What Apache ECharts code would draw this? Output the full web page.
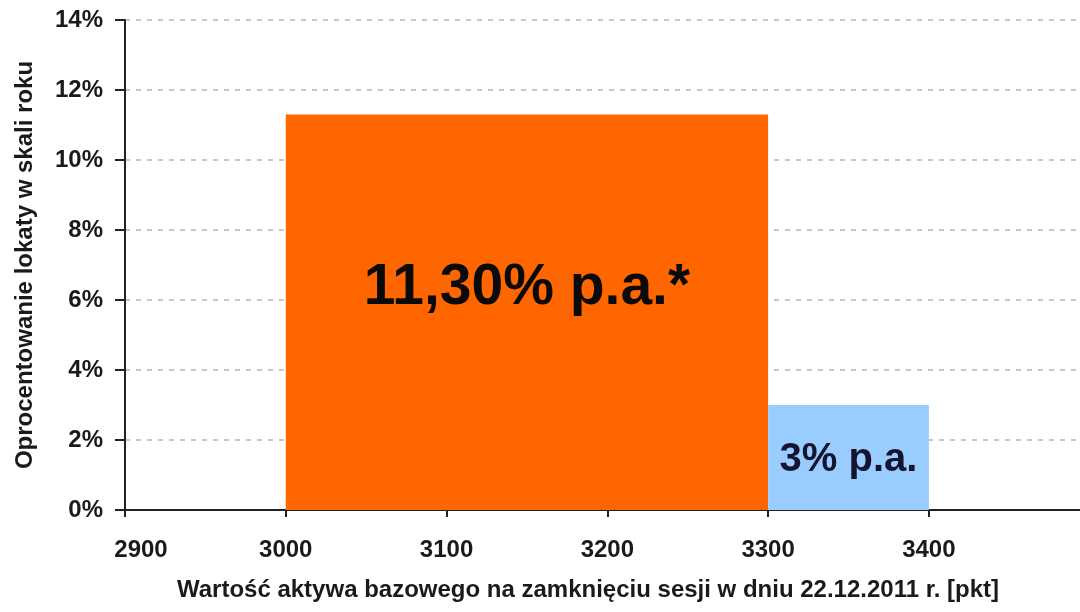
<!DOCTYPE html>
<html>
<head>
<meta charset="utf-8">
<script src="https://cdn.jsdelivr.net/npm/echarts@6/dist/echarts.min.js"></script>
<style>
  html, body { margin: 0; padding: 0; background: #ffffff; }
  #chart { width: 1080px; height: 612px; }
</style>
</head>
<body>
<div id="chart"></div>
<script>
// Index level bands (points) and the annual deposit rate paid in each band
const bandFrom = [3000, 3300];
const bandTo = [3300, 3400];
const ratePct = [11.3, 3];
const rateDecimals = [2, 0];
const rateNote = ['*', ''];

// Axis ranges
const xMin = 2900, xMax = 3494, xStep = 100;
const yMin = 0, yMax = 14, yStep = 2;

const xTitle = 'Wartość aktywa bazowego na zamknięciu sesji w dniu 22.12.2011 r. [pkt]';
const yTitle = 'Oprocentowanie lokaty w skali roku';

// Styling
const FONT = '"Liberation Sans", Arial, sans-serif';
const bandColor = ['#FF6600', '#99CCFF'];
const bandTextColor = ['#0a0a0a', '#14142e'];
const bandTextSize = [57, 40];
const bandTextShift = [-24, 2];

const rateText = i =>
  ratePct[i].toFixed(rateDecimals[i]).replace('.', ',') + '% p.a.' + rateNote[i];

const bands = bandFrom.map((f, i) => [f, bandTo[i], ratePct[i]]);

const chart = echarts.init(document.getElementById('chart'), null, { renderer: 'canvas' });

chart.setOption({
  backgroundColor: '#ffffff',
  animation: false,
  grid: { left: 125, right: 0, top: 20, bottom: 102, containLabel: false },
  xAxis: {
    type: 'value',
    min: xMin, max: xMax, interval: xStep,
    name: xTitle,
    nameLocation: 'middle',
    nameGap: 68,
    nameTextStyle: {
      fontFamily: FONT, fontWeight: 'bold', fontSize: 24, color: '#1a1a1a',
      padding: [0, 29, 0, 0]
    },
    axisLine: { show: true, onZero: false, lineStyle: { color: '#222222', width: 2 } },
    axisTick: { show: true, length: 7, lineStyle: { color: '#222222', width: 2 } },
    axisLabel: {
      margin: 28,
      showMaxLabel: false,
      fontFamily: FONT, fontWeight: 'bold', fontSize: 24, color: '#1a1a1a',
      formatter: v => (v === xMin ? '{first|' + v + '}' : String(v)),
      rich: {
        first: { fontFamily: FONT, fontWeight: 'bold', fontSize: 24, color: '#1a1a1a', padding: [0, 0, 0, 32] }
      }
    },
    splitLine: { show: false }
  },
  yAxis: {
    type: 'value',
    min: yMin, max: yMax, interval: yStep,
    name: yTitle,
    nameLocation: 'middle',
    nameGap: 88,
    nameRotate: 90,
    nameTextStyle: { fontFamily: FONT, fontWeight: 'bold', fontSize: 24, color: '#1a1a1a' },
    axisLine: { show: true, lineStyle: { color: '#222222', width: 2 } },
    axisTick: { show: true, length: 10, lineStyle: { color: '#222222', width: 2 } },
    axisLabel: {
      margin: 22,
      fontFamily: FONT, fontWeight: 'bold', fontSize: 24, color: '#1a1a1a',
      formatter: '{value}%'
    },
    splitLine: {
      show: true,
      lineStyle: { color: '#c8c8c8', width: 2, type: [5, 6] }
    }
  },
  series: [{
    type: 'custom',
    data: bands,
    encode: { x: [0, 1], y: 2 },
    renderItem: (params, api) => {
      const i = params.dataIndex;
      const topLeft = api.coord([api.value(0), api.value(2)]);
      const bottomRight = api.coord([api.value(1), 0]);
      const w = bottomRight[0] - topLeft[0];
      const h = bottomRight[1] - topLeft[1];
      return {
        type: 'group',
        children: [
          {
            type: 'rect',
            shape: { x: topLeft[0], y: topLeft[1], width: w, height: h },
            style: { fill: bandColor[i] }
          },
          {
            type: 'text',
            x: topLeft[0] + w / 2,
            y: topLeft[1] + h / 2 + bandTextShift[i],
            style: {
              text: rateText(i),
              fill: bandTextColor[i],
              font: 'bold ' + bandTextSize[i] + 'px ' + FONT,
              align: 'center',
              verticalAlign: 'middle'
            }
          }
        ]
      };
    }
  }]
});
</script>
</body>
</html>
